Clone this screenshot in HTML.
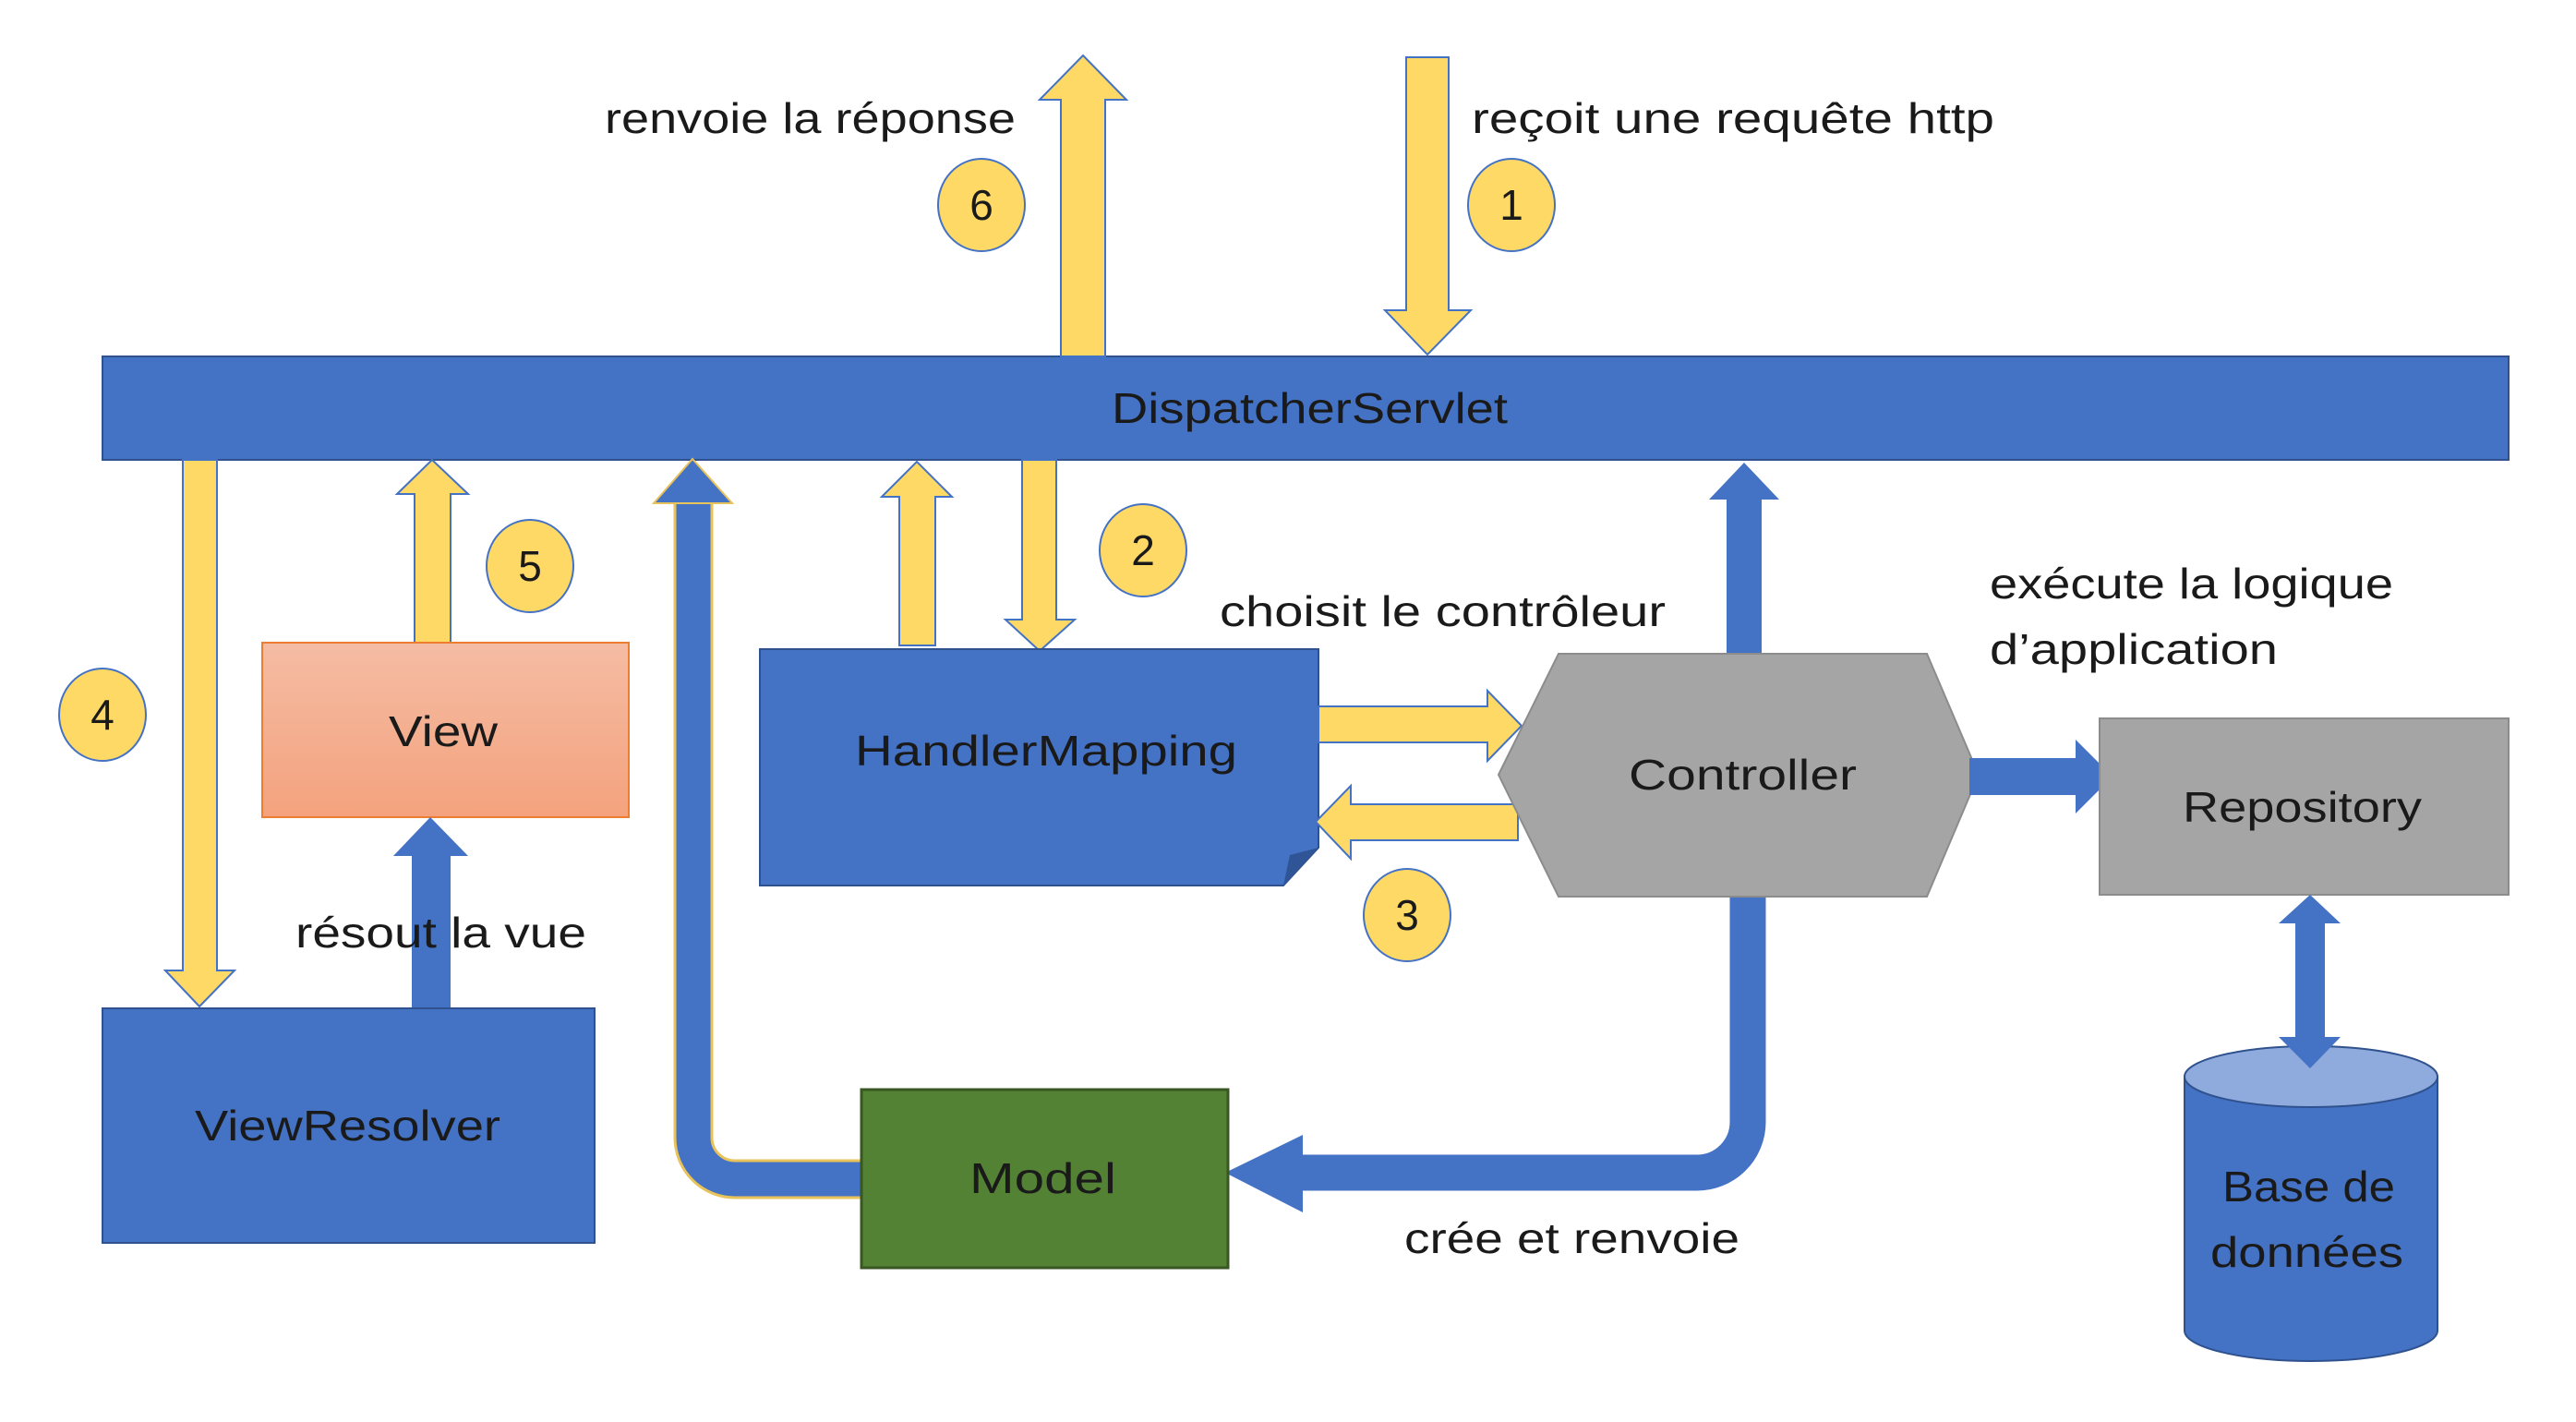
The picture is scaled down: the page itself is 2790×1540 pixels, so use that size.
<!DOCTYPE html>
<html><head><meta charset="utf-8"><style>html,body{margin:0;padding:0;background:#fff}svg{display:block}text{font-family:"Liberation Sans",sans-serif;fill:#1a1a1a}</style></head>
<body>
<svg width="2790" height="1540" viewBox="0 0 2790 1540" xmlns="http://www.w3.org/2000/svg">
<defs>
<linearGradient id="vg" x1="0" y1="0" x2="0" y2="1"><stop offset="0" stop-color="#f5bca4"/><stop offset="1" stop-color="#f4a27d"/></linearGradient>
</defs>
<g font-size="46" transform="translate(0,-4)">
<rect x="111" y="390" width="2606" height="112" fill="#4472c4" stroke="#2f528f" stroke-width="2"/>
<text x="1204" y="462" textLength="429" lengthAdjust="spacingAndGlyphs">DispatcherServlet</text>

<polygon points="1126,112 1173,64 1220,112 1197,112 1197,390 1149,390 1149,112" fill="#ffd966" stroke="#4472c4" stroke-width="2"/>
<polygon points="1523,66 1569,66 1569,340 1593,340 1546,388 1500,340 1523,340" fill="#ffd966" stroke="#4472c4" stroke-width="2"/>

<text x="655" y="148" textLength="445" lengthAdjust="spacingAndGlyphs">renvoie la réponse</text>
<text x="1594" y="148" textLength="566" lengthAdjust="spacingAndGlyphs">reçoit une requête http</text>

<g fill="#ffd966" stroke="#4472c4" stroke-width="2">
<ellipse cx="1063" cy="226" rx="47" ry="50"/>
<ellipse cx="1637" cy="226" rx="47" ry="50"/>
<ellipse cx="1238" cy="600" rx="47" ry="50"/>
<ellipse cx="574" cy="617" rx="47" ry="50"/>
<ellipse cx="111" cy="778" rx="47" ry="50"/>
<ellipse cx="1524" cy="995" rx="47" ry="50"/>
</g>
<g text-anchor="middle">
<text x="1063" y="242">6</text>
<text x="1637" y="242">1</text>
<text x="1238" y="616">2</text>
<text x="574" y="633">5</text>
<text x="111" y="794">4</text>
<text x="1524" y="1011">3</text>
</g>

<polygon points="198,502 235,502 235,1055 254,1055 216,1094 179,1055 198,1055" fill="#ffd966" stroke="#4472c4" stroke-width="2"/>
<polygon points="430,539 468,502 507,539 488,539 488,700 449,700 449,539" fill="#ffd966" stroke="#4472c4" stroke-width="2"/>
<polygon points="955,542 993,504 1031,542 1013,542 1013,703 974,703 974,542" fill="#ffd966" stroke="#4472c4" stroke-width="2"/>
<polygon points="1107,502 1144,502 1144,675 1164,675 1126,709 1089,675 1107,675" fill="#ffd966" stroke="#4472c4" stroke-width="2"/>

<rect x="284" y="700" width="397" height="189" fill="url(#vg)" stroke="#ed7d31" stroke-width="2"/>
<text x="421" y="812" textLength="118" lengthAdjust="spacingAndGlyphs">View</text>

<polygon points="426,931 466,889 507,931 488,931 488,1096 446,1096 446,931" fill="#4472c4"/>
<text x="320" y="1030" textLength="315" lengthAdjust="spacingAndGlyphs">résout la vue</text>

<rect x="111" y="1096" width="533" height="254" fill="#4472c4" stroke="#2f528f" stroke-width="2"/>
<text x="211" y="1239" textLength="331" lengthAdjust="spacingAndGlyphs">ViewResolver</text>

<path d="M 935 1281 L 796 1281 A 45 45 0 0 1 751 1236 L 751 545" fill="none" stroke="#e8c25a" stroke-width="43"/>
<path d="M 935 1281 L 796 1281 A 45 45 0 0 1 751 1236 L 751 545" fill="none" stroke="#4472c4" stroke-width="37"/>
<polygon points="708,549 750,501 793,549" fill="#4472c4" stroke="#e8c25a" stroke-width="2"/>

<path d="M 823 707 L 1428 707 L 1428 922 L 1390 963 L 823 963 Z" fill="#4472c4" stroke="#2f528f" stroke-width="2"/>
<path d="M 1390 963 L 1397 930 L 1428 922 Z" fill="#2f5597"/>
<text x="926" y="833" textLength="414" lengthAdjust="spacingAndGlyphs">HandlerMapping</text>
<text x="1321" y="682" textLength="483" lengthAdjust="spacingAndGlyphs">choisit le contrôleur</text>

<polygon points="1428,769 1611,769 1611,752 1648,790 1611,828 1611,808 1428,808" fill="#ffd966" stroke="#4472c4" stroke-width="2"/>
<polygon points="1644,875 1463,875 1463,855 1425,894 1463,934 1463,914 1644,914" fill="#ffd966" stroke="#4472c4" stroke-width="2"/>

<polygon points="1851,545 1889,505 1927,545 1908,545 1908,712 1870,712 1870,545" fill="#4472c4"/>

<path d="M 1893 970 L 1893 1219 A 55 55 0 0 1 1838 1274 L 1405 1274" fill="none" stroke="#4472c4" stroke-width="39"/>
<polygon points="1411,1233 1327,1274 1411,1317" fill="#4472c4"/>
<text x="1521" y="1361" textLength="363" lengthAdjust="spacingAndGlyphs">crée et renvoie</text>

<polygon points="1623,843 1688,712 2087,712 2143,843 2087,975 1688,975" fill="#a5a5a5" stroke="#8c8c8c" stroke-width="2"/>
<text x="1764" y="859" textLength="247" lengthAdjust="spacingAndGlyphs">Controller</text>

<rect x="933" y="1184" width="397" height="193" fill="#548235" stroke="#385723" stroke-width="3"/>
<text x="1050" y="1296" textLength="159" lengthAdjust="spacingAndGlyphs">Model</text>

<polygon points="2133,825 2248,825 2248,805 2288,845 2248,885 2248,865 2133,865" fill="#4472c4"/>

<text x="2155" y="652" textLength="437" lengthAdjust="spacingAndGlyphs">exécute la logique</text>
<text x="2155" y="723" textLength="312" lengthAdjust="spacingAndGlyphs">d’application</text>

<rect x="2274" y="782" width="443" height="191" fill="#a5a5a5" stroke="#8c8c8c" stroke-width="2"/>
<text x="2364" y="894" textLength="259" lengthAdjust="spacingAndGlyphs">Repository</text>

<path d="M 2366 1170 L 2366 1445 A 137 33 0 0 0 2640 1445 L 2640 1170 Z" fill="#4472c4" stroke="#2f528f" stroke-width="2"/>
<ellipse cx="2503" cy="1170" rx="137" ry="33" fill="#8faadc" stroke="#2f528f" stroke-width="2"/>

<polygon points="2502,973 2535,1004 2518,1004 2518,1127 2535,1127 2502,1161 2468,1127 2486,1127 2486,1004 2468,1004" fill="#4472c4"/>

<text x="2407" y="1305" textLength="187" lengthAdjust="spacingAndGlyphs">Base de</text>
<text x="2394" y="1376" textLength="209" lengthAdjust="spacingAndGlyphs">données</text>
</g>
</svg>
</body></html>
